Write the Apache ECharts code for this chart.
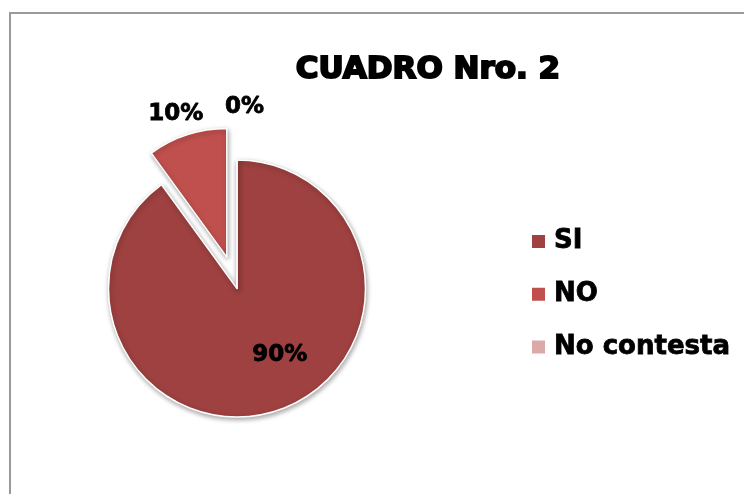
<!DOCTYPE html>
<html>
<head>
<meta charset="utf-8">
<script src="https://cdn.jsdelivr.net/npm/echarts@6/dist/echarts.min.js"></script>
<style>
html,body{margin:0;padding:0;background:#fff;}
#frame{position:absolute;left:9px;top:12px;width:800px;height:600px;border-left:2px solid #9a9a9a;border-top:2px solid #9a9a9a;}
#chart{position:absolute;left:0;top:0;width:744px;height:494px;}
</style>
</head>
<body>
<div id="frame"></div>
<div id="chart"></div>
<script>
const titleText = 'CUADRO Nro. 2';
const categories = ['SI', 'NO', 'No contesta'];
const values = [90, 10, 0];
const colors = ['#9e4140', '#c0504d', '#dba9a8'];

const chart = echarts.init(document.getElementById('chart'));
const font = 'DejaVu Sans';
const labelOffsets = [[22, 3], [25, -9], [-17, -41]];
const data = categories.map((c, i) => {
  const d = { name: c, value: values[i], itemStyle: { color: colors[i] }, label: { offset: labelOffsets[i] } };
  if (i === 0) d.label.position = 'inside';
  if (i === 1) { d.selected = true; d.select = { label: { offset: labelOffsets[i] } }; }
  return d;
});
chart.setOption({
  animation: false,
  title: {
    text: titleText,
    left: 423, top: 49, textAlign: 'center',
    textStyle: { fontFamily: font, fontWeight: 'bold', fontSize: 31, color: '#000', textBorderColor: '#000', textBorderWidth: 2 }
  },
  legend: {
    orient: 'vertical', left: 530, top: 228, padding: 0,
    icon: 'rect', itemWidth: 15, itemHeight: 15, itemGap: 26,
    selectedMode: false,
    textStyle: { fontFamily: font, fontWeight: 'bold', fontSize: 26, color: '#000', textBorderColor: '#000', textBorderWidth: 0.8, padding: [0, 0, 0, 3] },
    data: categories
  },
  series: [{
    type: 'pie',
    center: [237, 288.5],
    radius: 128.5,
    startAngle: 90,
    clockwise: true,
    selectedMode: 'multiple',
    selectedOffset: 33,
    avoidLabelOverlap: false,
    itemStyle: { borderColor: '#fff', borderWidth: 1.5, shadowBlur: 5, shadowColor: 'rgba(0,0,0,0.35)', shadowOffsetX: 1, shadowOffsetY: 2 },
    label: {
      show: true, position: 'outside', formatter: '{d}%',
      fontFamily: font, fontWeight: 'bold', fontSize: 23, color: '#000', textBorderColor: '#000', textBorderWidth: 0.8
    },
    labelLine: { show: false, length: 12, length2: 0 },
    emphasis: { disabled: true },
    data: data
  }]
});
</script>
</body>
</html>
